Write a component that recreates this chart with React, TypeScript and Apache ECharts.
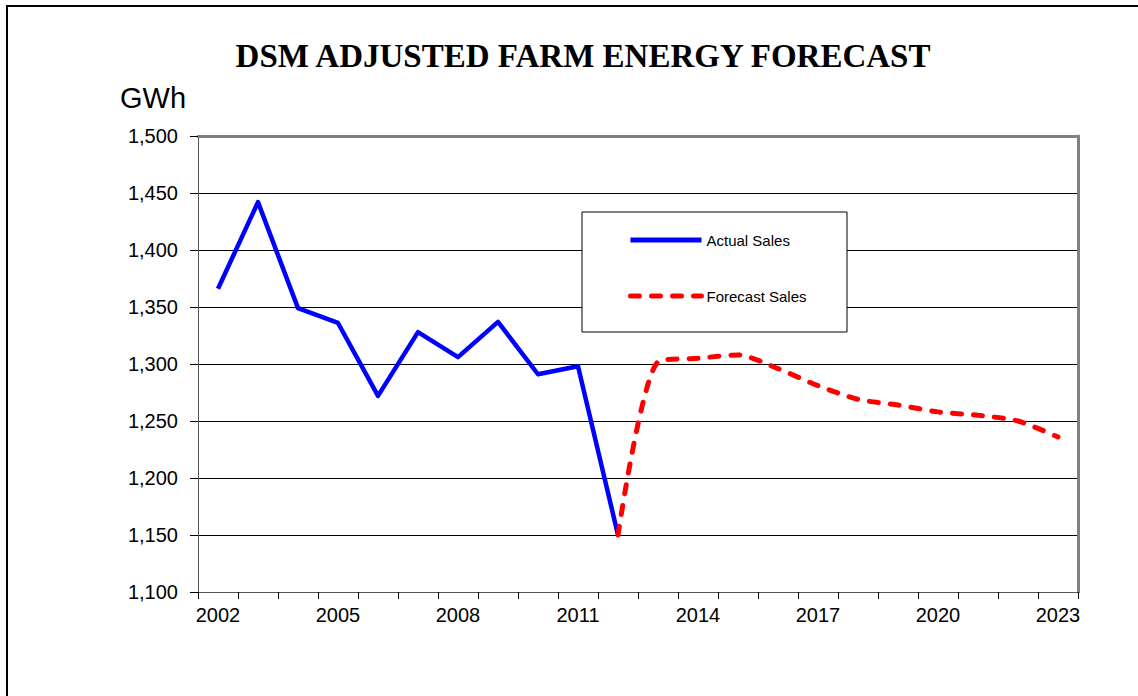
import React, { useEffect, useRef } from "react";
import * as echarts from "echarts";

const years: string[] = [
  "2002", "2003", "2004", "2005", "2006", "2007", "2008", "2009", "2010", "2011", "2012",
  "2013", "2014", "2015", "2016", "2017", "2018", "2019", "2020", "2021", "2022", "2023",
];

const actualSales: (number | null)[] = [
  1366, 1442, 1349, 1336, 1272, 1328, 1306, 1337, 1291, 1298, 1150,
  null, null, null, null, null, null, null, null, null, null, null,
];

const forecastSales: (number | null)[] = [
  null, null, null, null, null, null, null, null, null, null, 1150,
  1302, 1305, 1308, 1296, 1281, 1269, 1264, 1258, 1255, 1250, 1236,
];

const yTicks = { min: 1100, max: 1500, step: 50 };

const SANS = "'Liberation Sans', Arial, sans-serif";
const NARROW = "'Liberation Sans Narrow', 'Arial Narrow', 'Liberation Sans', sans-serif";
const SERIF = "'Liberation Serif', 'Times New Roman', serif";

export default function App() {
  const ref = useRef<HTMLDivElement>(null);

  useEffect(() => {
    if (!ref.current) return;
    const chart = echarts.init(ref.current, undefined, { renderer: "svg" });
    const nLines = (yTicks.max - yTicks.min) / yTicks.step;
    const splitColors: string[] = [];
    for (let i = 0; i <= nLines; i++) {
      splitColors.push(i === 0 || i === nLines ? "transparent" : "#000000");
    }
    chart.setOption({
      animation: false,
      backgroundColor: "#ffffff",
      grid: { left: 198, right: 60, top: 136, bottom: 104, containLabel: false },
      graphic: [
        {
          type: "rect",
          shape: { x: 7, y: 6, width: 1300, height: 900 },
          style: { fill: "none", stroke: "#000", lineWidth: 2 },
          z: 1,
        },
        {
          type: "text",
          x: 583,
          y: 56,
          style: {
            text: "DSM ADJUSTED FARM ENERGY FORECAST",
            fontFamily: SERIF,
            fontWeight: "bold",
            fontSize: 33,
            fill: "#000",
            textAlign: "center",
            textVerticalAlign: "middle",
          },
          z: 5,
        },
        {
          type: "text",
          x: 120,
          y: 98,
          style: {
            text: "GWh",
            fontFamily: SANS,
            fontSize: 29,
            fill: "#000",
            textAlign: "left",
            textVerticalAlign: "middle",
          },
          z: 5,
        },
        {
          type: "rect",
          shape: { x: 582, y: 212, width: 265, height: 120 },
          style: { fill: "#ffffff", stroke: "#000", lineWidth: 1 },
          z: 3,
        },
      ],
      legend: {
        orient: "vertical",
        left: 628,
        top: 232,
        itemWidth: 71,
        itemHeight: 20,
        itemGap: 40,
        padding: 0,
        textStyle: { fontFamily: NARROW, fontSize: 15, color: "#000" },
        itemStyle: { opacity: 0 },
        lineStyle: { width: 5 },
        data: ["Actual Sales", "Forecast Sales"],
        z: 6,
      },
      xAxis: [
        {
          type: "category",
          data: years,
          boundaryGap: true,
          axisLine: { show: true, lineStyle: { color: "#555", width: 1 } },
          axisTick: { show: true, interval: 0, length: 7, lineStyle: { color: "#000", width: 1 } },
          axisLabel: {
            interval: 2,
            fontSize: 20,
            fontFamily: SANS,
            color: "#000",
            margin: 13,
          },
          splitLine: { show: false },
        },
        {
          type: "category",
          data: years,
          position: "top",
          boundaryGap: true,
          axisLine: { show: true, lineStyle: { color: "#808080", width: 3 } },
          axisTick: { show: false },
          axisLabel: { show: false },
          splitLine: { show: false },
        },
      ],
      yAxis: [
        {
          type: "value",
          min: yTicks.min,
          max: yTicks.max,
          interval: yTicks.step,
          axisLine: { show: true, lineStyle: { color: "#555", width: 1 } },
          axisTick: { show: true, length: 8, lineStyle: { color: "#000", width: 1 } },
          axisLabel: {
            fontSize: 20,
            fontFamily: SANS,
            color: "#000",
            margin: 20,
            formatter: (v: number) => v.toLocaleString("en-US"),
          },
          splitLine: { show: true, lineStyle: { color: splitColors, width: 1 } },
        },
        {
          type: "value",
          min: yTicks.min,
          max: yTicks.max,
          interval: yTicks.step,
          position: "right",
          axisLine: { show: true, lineStyle: { color: "#808080", width: 3 } },
          axisTick: { show: false },
          axisLabel: { show: false },
          splitLine: { show: false },
        },
      ],
      series: [
        {
          name: "Actual Sales",
          type: "line",
          data: actualSales,
          symbol: "none",
          lineStyle: { color: "#0000ff", width: 4.5, join: "round" },
          itemStyle: { color: "#0000ff" },
          z: 3,
        },
        {
          name: "Forecast Sales",
          type: "line",
          data: forecastSales,
          symbol: "none",
          smooth: 0.25,
          lineStyle: { color: "#ff0000", width: 5, type: [9, 12], cap: "round" },
          itemStyle: { color: "#ff0000" },
          z: 4,
        },
      ],
    });
    return () => chart.dispose();
  }, []);

  return (
    <div
      ref={ref}
      style={{ position: "fixed", left: 0, top: 0, width: 1138, height: 696, background: "#fff" }}
    />
  );
}
